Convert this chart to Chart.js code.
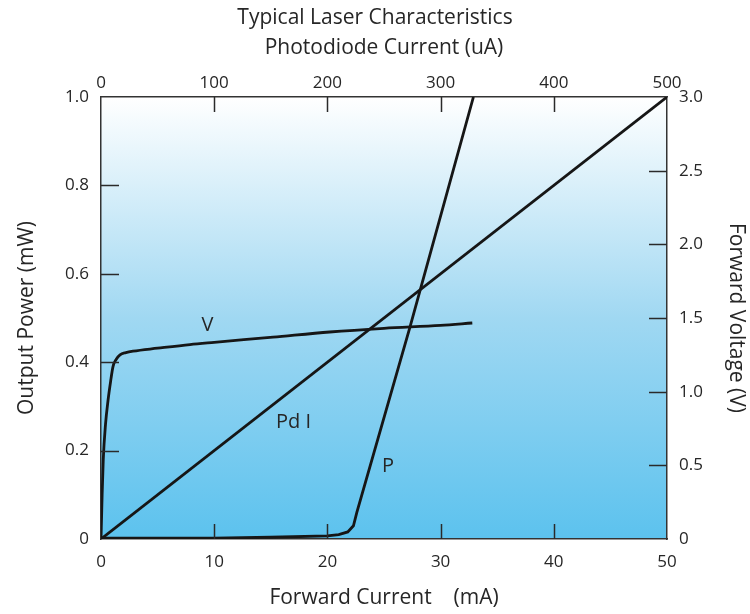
<!DOCTYPE html>
<html><head><meta charset="utf-8">
<script src="https://cdn.jsdelivr.net/npm/chart.js@4.4.1/dist/chart.umd.min.js"></script>
<style>html,body{margin:0;padding:0;background:#fff;}canvas{display:block;}</style>
</head><body>
<canvas id="c" width="750" height="614"></canvas>
<script>
// ---- data ----
const pCurrent = [0, 5, 10, 15, 20, 21.0, 21.8, 22.3, 22.6, 27.3, 32.9];
const pPower   = [0.002, 0.002, 0.002, 0.004, 0.007, 0.010, 0.016, 0.030, 0.060, 0.48, 1.0];

const vCurrent = [0, 0.05, 0.1, 0.2, 0.4, 0.62, 0.85, 1.06, 1.35, 1.68, 2.2, 2.83, 5, 7.86, 10, 15.2, 20.2, 25, 30, 32.8];
const vVoltage = [0, 0.15, 0.3, 0.54, 0.78, 0.94, 1.07, 1.17, 1.22, 1.25, 1.265, 1.275, 1.295, 1.32, 1.335, 1.37, 1.405, 1.43, 1.45, 1.466];

const pdCurrent = [0, 500];
const pdPower   = [0, 1.0];

const bottomTicks = [0, 10, 20, 30, 40, 50];
const topTicks    = [0, 100, 200, 300, 400, 500];
const leftTicks   = ['0', '0.2', '0.4', '0.6', '0.8', '1.0'];
const rightTicks  = ['0', '0.5', '1.0', '1.5', '2.0', '2.5', '3.0'];

const curveNames = ['V', 'Pd I', 'P'];
const curveNameAnchors = [[9.4, 0.484], [17.0, 0.265], [25.35, 0.165]];

// ---- chart ----
const FONT = "'Open Sans', sans-serif";
const TXT = '#262626';
const LINE = '#161616';

const toXY = (xs, ys) => xs.map((x, i) => ({x, y: ys[i]}));

const bgPlugin = {
  id: 'bg',
  beforeDraw(chart) {
    const {ctx, chartArea: a} = chart;
    const g = ctx.createLinearGradient(0, a.top, 0, a.bottom);
    g.addColorStop(0, '#ffffff');
    g.addColorStop(0.5, '#a0d8f2');
    g.addColorStop(1, '#5cc2ee');
    ctx.save();
    ctx.fillStyle = g;
    ctx.fillRect(a.left, a.top, a.right - a.left, a.bottom - a.top);
    ctx.restore();
  }
};

const innerTicks = {
  id: 'innerTicks',
  afterDatasetsDraw(chart) {
    const {ctx, chartArea: a, scales} = chart;
    ctx.save();
    ctx.strokeStyle = '#2a2a2a';
    ctx.lineWidth = 1.5;
    const draw = (sc, len) => {
      sc.ticks.forEach(t => {
        if (t.value === sc.min || t.value === sc.max) return;
        const p = Math.round(sc.getPixelForValue(t.value)) + 0.5;
        ctx.beginPath();
        if (sc.position === 'left') { ctx.moveTo(a.left, p); ctx.lineTo(a.left + len, p); }
        else if (sc.position === 'right') { ctx.moveTo(a.right, p); ctx.lineTo(a.right - len, p); }
        else if (sc.position === 'bottom') { ctx.moveTo(p, a.bottom); ctx.lineTo(p, a.bottom - len); }
        else { ctx.moveTo(p, a.top); ctx.lineTo(p, a.top + len); }
        ctx.stroke();
      });
    };
    draw(scales.y, 18); draw(scales.y2, 18); draw(scales.x, 15); draw(scales.x2, 15);
    // curve names
    ctx.fillStyle = TXT;
    ctx.font = "20px " + FONT;
    ctx.textAlign = 'center';
    ctx.textBaseline = 'middle';
    curveNames.forEach((n, i) => {
      const [cx, cy] = curveNameAnchors[i];
      ctx.fillText(n, scales.x.getPixelForValue(cx), scales.y.getPixelForValue(cy));
    });
    ctx.restore();
  }
};

const tickFont = {family: FONT, size: 17};
const titleFont = {family: FONT, size: 21};
const border = {display: true, color: '#333333', width: 1.5};

new Chart(document.getElementById('c'), {
  type: 'scatter',
  data: {
    datasets: [
      {label: 'P', data: toXY(pCurrent, pPower), xAxisID: 'x', yAxisID: 'y'},
      {label: 'V', data: toXY(vCurrent, vVoltage), xAxisID: 'x', yAxisID: 'y2', cubicInterpolationMode: 'monotone'},
      {label: 'Pd I', data: toXY(pdCurrent, pdPower), xAxisID: 'x2', yAxisID: 'y'}
    ].map(d => Object.assign({showLine: true, borderColor: LINE, borderWidth: 2.8, pointRadius: 0, fill: false}, d))
  },
  options: {
    responsive: false,
    animation: false,
    devicePixelRatio: 1,
    layout: {padding: 0},
    plugins: {
      legend: {display: false},
      tooltip: {enabled: false},
      title: {display: true, text: 'Typical Laser Characteristics', color: TXT, font: {family: FONT, size: 21, weight: 'normal'}, padding: {top: 5, bottom: 2}}
    },
    scales: {
      x: {
        type: 'linear', position: 'bottom', min: 0, max: 50,
        afterBuildTicks: s => { s.ticks = bottomTicks.map(v => ({value: v})); },
        ticks: {color: TXT, font: tickFont, padding: 13, maxRotation: 0, callback: v => String(v)},
        grid: {display: false, drawTicks: false}, border,
        title: {display: true, text: 'Forward Current    (mA)', color: TXT, font: titleFont, padding: {top: 0, bottom: 3}},
        afterFit: s => { s.height = 75; }
      },
      x2: {
        type: 'linear', position: 'top', min: 0, max: 500,
        afterBuildTicks: s => { s.ticks = topTicks.map(v => ({value: v})); },
        ticks: {color: TXT, font: tickFont, padding: 4, maxRotation: 0, callback: v => String(v)},
        grid: {display: false, drawTicks: false}, border,
        title: {display: true, text: 'Photodiode Current (uA)', color: TXT, font: titleFont, padding: {top: 3, bottom: 0}},
        afterFit: s => { s.height = 64.8; }
      },
      y: {
        type: 'linear', position: 'left', min: 0, max: 1.0,
        afterBuildTicks: s => { s.ticks = leftTicks.map(v => ({value: parseFloat(v)})); },
        ticks: {color: TXT, font: tickFont, padding: 12, callback: (v, i) => leftTicks[i]},
        grid: {display: false, drawTicks: false}, border,
        title: {display: true, text: 'Output Power (mW)', color: TXT, font: titleFont, padding: {top: 14, bottom: 0}},
        afterFit: s => { s.width = 101; }
      },
      y2: {
        type: 'linear', position: 'right', min: 0, max: 3.0,
        afterBuildTicks: s => { s.ticks = rightTicks.map(v => ({value: parseFloat(v)})); },
        ticks: {color: TXT, font: tickFont, padding: 12, callback: (v, i) => rightTicks[i]},
        grid: {display: false, drawTicks: false}, border,
        title: {display: true, text: 'Forward Voltage (V)', color: TXT, font: titleFont, padding: {top: 1, bottom: 0}},
        afterFit: s => { s.width = 83; }
      }
    }
  },
  plugins: [bgPlugin, innerTicks]
});
</script>
</body></html>
